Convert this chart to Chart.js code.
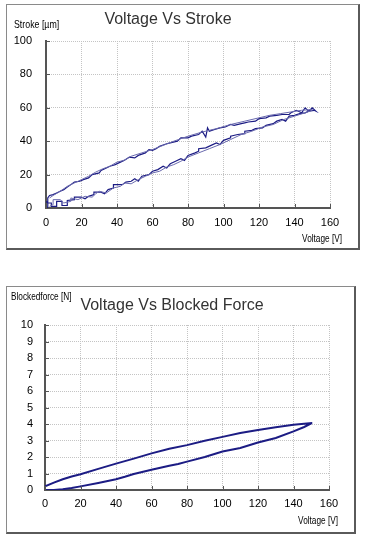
<!DOCTYPE html>
<html>
<head>
<meta charset="utf-8">
<script src="https://cdn.jsdelivr.net/npm/chart.js@4.4.0/dist/chart.umd.min.js"></script>
<style>
body { margin:0; background:#fff; width:365px; height:538px; position:relative; overflow:hidden; }
.panel { position:absolute; background:#fff; border-left:1px solid #8a8a8a; border-top:1px solid #8a8a8a; border-right:2px solid #5a5a5a; border-bottom:2px solid #5a5a5a; }
#p1 { left:6px; top:4px; width:351px; height:243px; }
#p2 { left:6px; top:286px; width:347px; height:245px; }
canvas { display:block; }
</style>
</head>
<body>
<div class="panel" id="p1"><canvas id="strokeChart" width="351" height="243"></canvas></div>
<div class="panel" id="p2"><canvas id="forceChart" width="347" height="245"></canvas></div>
<script>
// voltage [V] going up / coming down, stroke [um] (dark trace)
const voltUp   = [0, 1, 1, 3, 3, 6, 6, 9, 9, 12, 12, 16, 16, 20, 22, 24, 27, 27, 31, 33, 35, 38, 38, 43, 45, 48, 50, 52, 54, 58, 60, 63, 66, 68, 70, 73, 76, 78, 80, 84, 86, 86, 90, 93, 96, 98, 100, 104, 104, 108, 112, 112, 116, 118, 122, 124, 128, 130, 133, 135, 137, 140, 143, 146, 148, 151, 152]
const strokeUp = [0, 0.5, 3, 3, 1, 1, 4, 4, 1.5, 1.5, 4.5, 5, 6.5, 6.5, 5.5, 7, 8, 9.5, 9.5, 8.5, 11, 12, 14, 14, 15.5, 16, 17.5, 16, 19, 20, 22, 23, 25, 24, 26.5, 28, 29.5, 28.5, 31.5, 33, 34, 35.5, 36, 37.5, 39, 38, 40.5, 42, 43, 44, 44.5, 46, 46.5, 47.5, 48, 49.5, 50.5, 52, 53, 52, 55, 55.5, 56.5, 57, 58, 58.5, 58]
const voltDown   = [150, 148, 146, 144, 141, 138, 137, 133, 130, 126, 124, 120, 118, 114, 112, 110, 106, 104, 101, 98, 95, 92, 91, 90, 88, 86, 82, 80, 76, 74, 70, 68, 64, 62, 60, 58, 56, 52, 50, 47, 44, 41, 39, 36, 34, 31, 30, 26, 24, 21, 19, 16, 14, 12, 10, 8, 6, 4, 2, 1, 1, 0]
const strokeDown = [60, 58, 60, 57, 58.5, 57, 56, 56, 55.5, 55, 54, 53.5, 52, 51.5, 51, 50.5, 49.5, 50, 48.5, 48, 47, 46, 48, 42.5, 46, 44, 43, 42, 42, 40, 39, 38.5, 37, 35.5, 34.5, 35, 33, 31.5, 30, 30.5, 28.5, 27, 26, 25, 24, 22.5, 21, 20, 18, 17, 16, 15.5, 14, 12.5, 11, 10, 9, 8, 7.5, 6, 3, 4]

// second (lighter) trace of the same loop
const volt2Up   = [2, 4, 4, 8, 10, 14, 14, 18, 22, 26, 28, 30, 34, 38, 42, 44, 48, 52, 56, 60, 64, 68, 72, 76, 80, 86, 92, 98, 104, 110, 116, 122, 128, 134, 140, 146, 150]
const stroke2Up = [1, 2, 5, 5, 3, 4, 6, 5, 7, 6.5, 8.5, 10, 9, 12, 13, 15, 14.5, 17, 19, 21, 22, 24.5, 26, 28, 30.5, 33, 35.5, 38, 41, 44, 46, 48.5, 50, 53, 55, 57, 58.5]
const volt2Down   = [150, 144, 138, 132, 126, 120, 112, 104, 96, 88, 80, 72, 66, 60, 54, 48, 44, 40, 36, 32, 28, 24, 20, 16, 12, 8, 4, 2]
const stroke2Down = [59, 58.5, 57.5, 56.5, 55.5, 54, 52, 50, 47.5, 45.5, 43, 40, 37.5, 35, 33, 31, 28.5, 27.5, 25, 23.5, 21.5, 19, 17, 15, 13, 10, 7.5, 6]

// voltage [V] / blocked force [N]
const forceVoltUp   = [0, 5, 10, 15, 20, 30, 40, 45, 50, 60, 70, 75, 80, 90, 100, 110, 120, 130, 140, 146, 150]
const forceUp       = [0, 0, 0.05, 0.12, 0.22, 0.43, 0.65, 0.8, 0.97, 1.23, 1.47, 1.58, 1.72, 2.0, 2.33, 2.55, 2.88, 3.15, 3.55, 3.82, 4.04]
const forceVoltDown = [150, 146, 140, 130, 120, 110, 100, 90, 80, 70, 60, 50, 40, 30, 20, 15, 10, 5, 0, 0]
const forceDown     = [4.05, 4.02, 3.95, 3.8, 3.63, 3.45, 3.22, 2.98, 2.72, 2.5, 2.22, 1.9, 1.6, 1.28, 0.95, 0.82, 0.65, 0.45, 0.22, 0.15]

const voltMax = 160, voltStep = 20
const strokeMax = 100, strokeStep = 20
const forceMax = 10, forceStep = 1

const lineColor = '#1c1c84'
const lightColor = '#6a6aae'
const tickFont = { family: "'Liberation Sans', Arial, sans-serif", size: 11 }

function loop(xa, ya, xb, yb) {
    let pts = xa.map((v, i) => ({ x: v, y: ya[i] }))
    return pts.concat(xb.map((v, i) => ({ x: v, y: yb[i] })))
}

// titles and axis names (sx squeezes the text like the narrow original font)
const textPlugin = {
    id: 'texts',
    afterDraw(chart, args, opts) {
        const ctx = chart.ctx
        opts.items.forEach(t => {
            ctx.save()
            ctx.font = t.font
            ctx.fillStyle = t.color || '#000'
            ctx.textAlign = t.align || 'left'
            ctx.textBaseline = 'alphabetic'
            ctx.translate(t.x, t.y)
            ctx.scale(t.sx || 1, 1)
            ctx.fillText(t.text, 0, 0)
            ctx.restore()
        })
    }
}

// small tick marks pointing into the plot
const innerTicks = {
    id: 'innerTicks',
    afterDraw(chart) {
        const ctx = chart.ctx
        const a = chart.chartArea
        const xs = chart.scales.x, ys = chart.scales.y
        ctx.save()
        ctx.strokeStyle = '#555'
        ctx.lineWidth = 1
        ctx.beginPath()
        xs.ticks.forEach(t => {
            const px = Math.round(xs.getPixelForValue(t.value)) + 0.5
            ctx.moveTo(px, a.bottom)
            ctx.lineTo(px, a.bottom - 4)
        })
        ys.ticks.forEach(t => {
            const py = Math.round(ys.getPixelForValue(t.value)) + 0.5
            ctx.moveTo(a.left, py)
            ctx.lineTo(a.left + 4, py)
        })
        ctx.stroke()
        ctx.restore()
    }
}

function makeChart(id, datasets, yMax, yStep, pad, yPad, xPad, yWidth, xHeight, texts) {
    return new Chart(document.getElementById(id), {
        type: 'scatter',
        data: { datasets: datasets },
        options: {
            responsive: false,
            animation: false,
            devicePixelRatio: 1,
            layout: { padding: pad },
            plugins: {
                legend: { display: false },
                tooltip: { enabled: false },
                texts: { items: texts }
            },
            scales: {
                x: {
                    type: 'linear', min: 0, max: voltMax,
                    ticks: { stepSize: voltStep, padding: xPad, font: tickFont, color: '#000', maxRotation: 0, autoSkip: false },
                    grid: { color: '#c4c4c4', drawTicks: false },
                    border: { color: '#555', width: 2, dash: [1, 1] },
                    afterFit: s => { s.height = xHeight }
                },
                y: {
                    min: 0, max: yMax,
                    ticks: { stepSize: yStep, padding: yPad, font: tickFont, color: '#000', autoSkip: false },
                    grid: { color: '#c4c4c4', drawTicks: false },
                    border: { color: '#555', width: 2, dash: [1, 1] },
                    afterFit: s => { s.width = yWidth }
                }
            }
        },
        plugins: [textPlugin, innerTicks]
    })
}

function line(points, color, width) {
    return { data: points, showLine: true, borderColor: color, borderWidth: width, pointRadius: 0, tension: 0 }
}

const narrow = "'Liberation Sans', Arial, sans-serif"
const titleFont = "16px 'Liberation Sans', Arial, sans-serif"

makeChart('strokeChart', [
        line(loop(volt2Up, stroke2Up, volt2Down, stroke2Down), lightColor, 1),
        line(loop(voltUp, strokeUp, voltDown, strokeDown), lineColor, 1.2)
    ], strokeMax, strokeStep,
    { left: 0, right: 28, top: 36, bottom: 0 }, 14, 8, 39, 40, [
        { text: 'Voltage Vs Stroke', x: 161, y: 19, align: 'center', font: titleFont, color: '#333' },
        { text: 'Stroke [µm]', x: 7, y: 23, font: '11px ' + narrow, sx: 0.8 },
        { text: 'Voltage [V]', x: 335, y: 237, align: 'right', font: '11px ' + narrow, sx: 0.75 }
    ])

makeChart('forceChart', [
        line(loop(forceVoltUp, forceUp, forceVoltDown, forceDown), lineColor, 2)
    ], forceMax, forceStep,
    { left: 0, right: 25, top: 38, bottom: 0 }, 12, 7, 38, 42, [
        { text: 'Voltage Vs Blocked Force', x: 165, y: 23, align: 'center', font: titleFont, color: '#333' },
        { text: 'Blockedforce [N]', x: 4, y: 13, font: '11px ' + narrow, sx: 0.75 },
        { text: 'Voltage [V]', x: 331, y: 237, align: 'right', font: '11px ' + narrow, sx: 0.75 }
    ])
</script>
</body>
</html>
